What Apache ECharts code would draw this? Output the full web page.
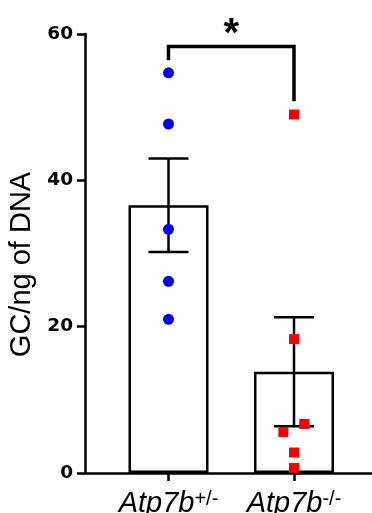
<!DOCTYPE html>
<html><head><meta charset="utf-8">
<script src="https://cdn.jsdelivr.net/npm/echarts@6/dist/echarts.min.js"></script>
<style>html,body{margin:0;padding:0;background:#fff}#c{width:372px;height:513px}</style>
</head><body><div id="c"></div>
<script>
const categories = ['Atp7b', 'Atp7b'];
const superscripts = ['+/-', '-/-'];
const groupPositions = [1, 2];
const means = [36.6, 13.85];
const sems = [6.4, 7.45];
const hetValues = [54.7, 47.7, 33.3, 26.2, 21.0];
const koValues = [49.0, 18.3, 6.7, 5.6, 2.8, 0.7];
const koJitter = [0, 0, 0.082, -0.085, 0, 0];
const yTicks = [0, 20, 40, 60];
const bracket = { from: 1, to: 2, top: 58.3, leftEnd: 56.4, rightEnd: 50.8, label: '*', labelY: 59.9 };

const chart = echarts.init(document.getElementById('c'), null, { renderer: 'canvas' });
const black = '#000';
const option = {
  animation: false,
  backgroundColor: '#fff',
  grid: { left: 85, right: 0, top: 34, bottom: 40, containLabel: false, outerBoundsMode: 'none' },
  xAxis: {
    type: 'value', min: 0.3347, max: 2.6215,
    splitLine: { show: false },
    axisLine: { onZero: false, lineStyle: { color: black, width: 2.5 } },
    axisTick: { show: true, customValues: groupPositions, length: 8, lineStyle: { color: black, width: 2.5 } },
    axisLabel: {
      customValues: groupPositions, margin: 16,
      formatter: function (v) {
        const i = groupPositions.indexOf(Math.round(v));
        return '{i|' + categories[i] + '}{s|' + superscripts[i] + '}';
      },
      rich: {
        i: { fontFamily: 'Liberation Sans', fontStyle: 'italic', fontSize: 29, lineHeight: 29, color: black },
        s: { fontFamily: 'Liberation Sans', fontSize: 20, lineHeight: 12, verticalAlign: 'top', color: black }
      }
    }
  },
  yAxis: {
    type: 'value', min: yTicks[0], max: yTicks[yTicks.length - 1], interval: 20,
    name: 'GC/ng of DNA', nameLocation: 'middle', nameGap: 45,
    nameTextStyle: { fontFamily: 'Liberation Sans', fontSize: 29, color: black, padding: [0, 22, 0, 0] },
    splitLine: { show: false },
    axisLine: { onZero: false, lineStyle: { color: black, width: 2.5 } },
    axisTick: { length: 8, lineStyle: { color: black, width: 2.5 } },
    axisLabel: { margin: 12, fontFamily: 'DejaVu Sans', fontWeight: 'bold', fontSize: 18.5, color: black }
  },
  series: [
    {
      type: 'bar', barWidth: 80, z: 1,
      data: groupPositions.map((x, i) => [x, means[i]]),
      itemStyle: { color: '#fff', borderColor: black, borderWidth: 2.5 }
    },
    {
      type: 'custom', z: 2,
      data: groupPositions.map((x, i) => [x, means[i], sems[i]]),
      renderItem: function (params, api) {
        const x = api.value(0), m = api.value(1), s = api.value(2);
        const hi = api.coord([x, m + s]);
        const lo = api.coord([x, m - s]);
        const half = 20;
        const st = { stroke: black, lineWidth: 2.5 };
        return { type: 'group', children: [
          { type: 'line', shape: { x1: hi[0], y1: hi[1], x2: lo[0], y2: lo[1] }, style: st },
          { type: 'line', shape: { x1: hi[0] - half, y1: hi[1], x2: hi[0] + half, y2: hi[1] }, style: st },
          { type: 'line', shape: { x1: lo[0] - half, y1: lo[1], x2: lo[0] + half, y2: lo[1] }, style: st }
        ]};
      }
    },
    {
      type: 'scatter', z: 3, symbol: 'circle', symbolSize: 11,
      itemStyle: { color: '#0000ff', opacity: 1 },
      data: hetValues.map(v => [groupPositions[0], v])
    },
    {
      type: 'scatter', z: 3, symbol: 'rect', symbolSize: 10,
      itemStyle: { color: '#ff0000', opacity: 1 },
      data: koValues.map((v, i) => [groupPositions[1] + koJitter[i], v])
    },
    {
      type: 'custom', z: 4, clip: false,
      data: [[bracket.from, bracket.to, bracket.top, bracket.leftEnd, bracket.rightEnd, bracket.labelY]],
      renderItem: function (params, api) {
        const a = api.coord([api.value(0), api.value(3)]);
        const b = api.coord([api.value(0), api.value(2)]);
        const c = api.coord([api.value(1), api.value(2)]);
        const d = api.coord([api.value(1), api.value(4)]);
        const t = api.coord([(api.value(0) + api.value(1)) / 2, api.value(5)]);
        return { type: 'group', children: [
          { type: 'polyline', shape: { points: [a, b, c, d] }, style: { stroke: black, lineWidth: 3.5, fill: null } },
          { type: 'text', x: t[0], y: t[1], style: { text: bracket.label, fontFamily: 'Liberation Sans', fontWeight: 'bold', fontSize: 40, fill: black, align: 'center', verticalAlign: 'middle' } }
        ]};
      }
    }
  ]
};
chart.setOption(option);
</script>
</body></html>
